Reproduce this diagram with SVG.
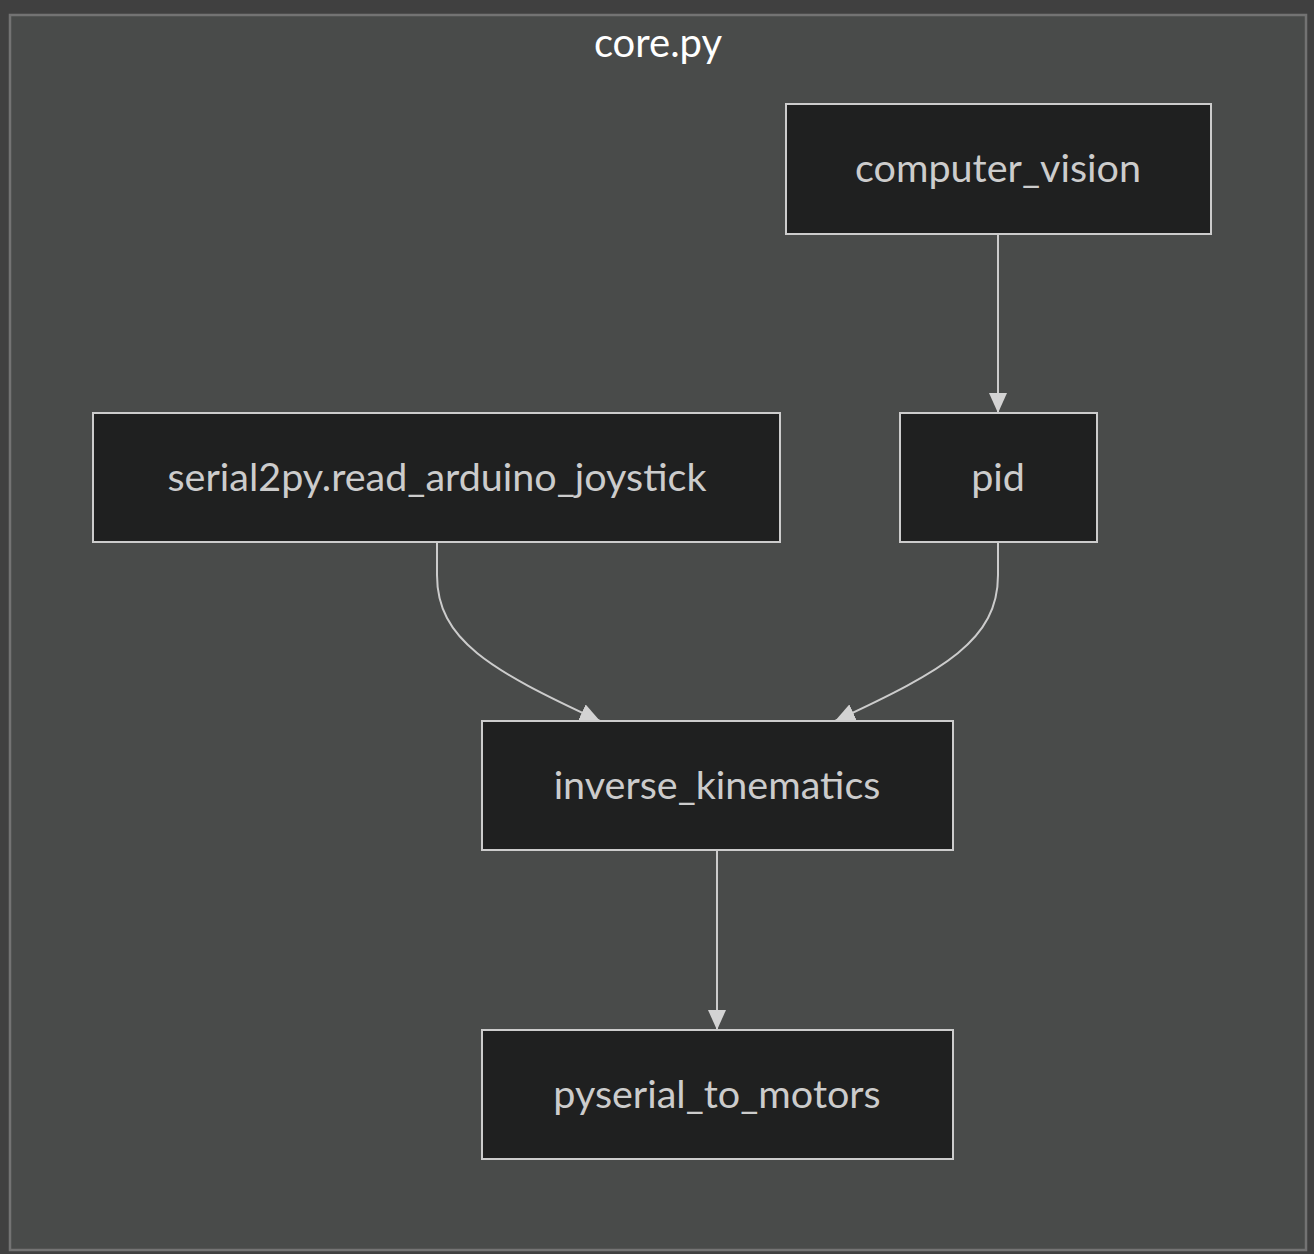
<svg xmlns="http://www.w3.org/2000/svg" width="1314" height="1254" viewBox="0 0 1314 1254">
<style>
.node rect{fill:#1f2020;stroke:#cccccc;stroke-width:2}
.node text{fill:#cccccc;font-family:Lato,"Noto Sans",sans-serif;font-size:39.5px;text-anchor:middle;dominant-baseline:central}
.edge{fill:none;stroke:#cccccc;stroke-width:2}
</style>
<defs>
<marker id="arr" viewBox="0 0 20 18" refX="20" refY="9" markerWidth="20" markerHeight="18" markerUnits="userSpaceOnUse" orient="auto">
<path d="M0,0 L20,9 L0,18 Z" fill="#d3d3d3"/>
</marker>
</defs>
<rect x="0" y="0" width="1314" height="1254" fill="#404040"/>
<g id="cluster-core">
<rect x="10" y="15" width="1296" height="1235" fill="#494b4a" stroke="#737373" stroke-width="2.5"/>
<text x="658" y="42" fill="#ffffff" font-family="Lato,'Noto Sans',sans-serif" font-size="40" text-anchor="middle" dominant-baseline="central">core.py</text>
</g>
<g id="connectors">
<path class="edge" d="M998,234 L998,413" marker-end="url(#arr)"/>
<path class="edge" d="M437,542 L437,575 C437,640 490,670 600,721" marker-end="url(#arr)"/>
<path class="edge" d="M998,542 L998,575 C998,640 945,670 835,721" marker-end="url(#arr)"/>
<path class="edge" d="M717,850 L717,1030" marker-end="url(#arr)"/>
</g>
<g id="computer_vision" class="node"><rect x="786" y="104" width="425" height="130"/><text x="998" y="166">computer_vision</text></g>
<g id="serial2py" class="node"><rect x="93" y="413" width="687" height="129"/><text x="437" y="475">serial2py.read_arduino_joystick</text></g>
<g id="pid" class="node"><rect x="900" y="413" width="197" height="129"/><text x="998" y="475">pid</text></g>
<g id="inverse_kinematics" class="node"><rect x="482" y="721" width="471" height="129"/><text x="717" y="783">inverse_kinematics</text></g>
<g id="pyserial_to_motors" class="node"><rect x="482" y="1030" width="471" height="129"/><text x="717" y="1092">pyserial_to_motors</text></g>
</svg>
